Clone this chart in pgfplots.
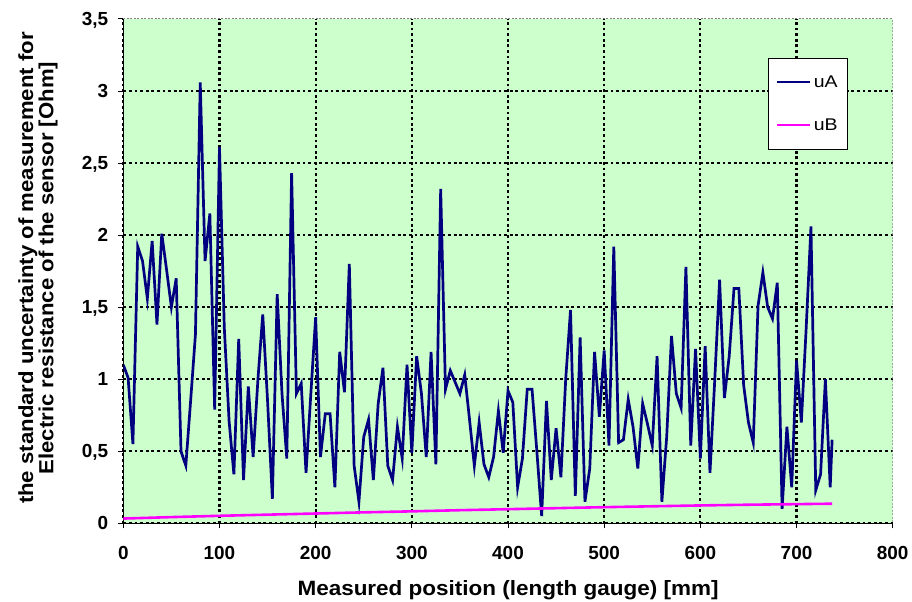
\documentclass[border=0pt]{standalone}
\usepackage{pgfplots}
\pgfplotsset{compat=1.18}
\usepackage{fontspec}
\setmainfont{Liberation Sans}
\newfontfamily\labelfont[FakeStretch=1.085]{Liberation Sans}
\newfontfamily\legfont[FakeStretch=1.15]{Liberation Sans}
\definecolor{plotbg}{RGB}{204,255,204}
\definecolor{navyA}{RGB}{0,0,128}
\definecolor{magB}{RGB}{255,0,255}
\definecolor{bordergray}{RGB}{128,128,128}
\begin{document}
\begin{tikzpicture}
\begin{axis}[
  scale only axis,
  width=769.4bp, height=504.3bp,
  xmin=0, xmax=800, ymin=0, ymax=3.5,
  axis x line*=bottom, axis y line*=left,
  axis line style={black, line width=1.3bp},
  axis background/.style={fill=plotbg},
  xtick={0,100,...,700}, ytick={0,0.5,...,3},
  extra x ticks={800}, extra y ticks={3.5},
  extra x tick style={grid=none}, extra y tick style={grid=none},
  grid=major,
  major grid style={black, line width=2.2bp, dash pattern=on 2.8bp off 2.8bp},
  tick align=outside, major tick length=5bp,
  tick style={black, line width=1bp},
  /pgf/number format/.cd, use comma, 1000 sep={}, assume math mode=true,
  /pgfplots/.cd,
  tick label style={font=\fontsize{19}{20}\selectfont\bfseries},
  xticklabel style={anchor=north, inner sep=0pt, yshift=-18bp},
  yticklabel style={anchor=east, inner sep=0pt, text depth=0pt, xshift=-10bp},
  xlabel={Measured position (length gauge) [mm]},
  xlabel style={at={(axis description cs:0.5,-0.1422)}, anchor=base, inner sep=0pt, font=\labelfont\fontsize{20.8}{22}\selectfont\bfseries},
  ylabel={the standard uncertainty of measurement for\\Electric resistance of the sensor [Ohm]},
  ylabel style={at={(axis description cs:-0.1109,0.506)}, anchor=center, inner sep=0pt, align=center, font=\labelfont\fontsize{20.5}{19}\selectfont\bfseries},
  legend image code/.code={\draw[#1] (0bp,0bp) -- (33bp,0bp);},
  legend cell align=left,
  legend style={at={(0.8375,0.9233)}, anchor=north west, draw=black, line width=0.8bp, fill=white,
    inner xsep=8bp, inner ysep=14bp, row sep=23bp,
    font=\legfont\fontsize{17}{18}\selectfont,
    nodes={inner sep=2bp, minimum height=20bp}},
]
\addplot[navyA, line width=2.7bp] coordinates {
(0,1.10) (5,1.01) (10,0.55) (15,1.92) (20,1.82) (25,1.56) (30,1.96) (35,1.38) (40,2.01) (45,1.76)
(50,1.50) (55,1.70) (60,0.50) (65,0.40) (70,0.85) (75,1.31) (80,3.06) (85,1.82) (90,2.15) (95,0.79)
(100,2.61) (105,1.36) (110,0.71) (115,0.34) (120,1.28) (125,0.30) (130,0.95) (135,0.46) (140,1.00) (145,1.45)
(150,0.85) (155,0.17) (160,1.59) (165,0.90) (170,0.45) (175,2.43) (180,0.90) (185,0.97) (190,0.35) (195,0.90)
(200,1.43) (205,0.46) (210,0.76) (215,0.76) (220,0.25) (225,1.19) (230,0.91) (235,1.80) (240,0.40) (245,0.15)
(250,0.60) (255,0.72) (260,0.30) (265,0.83) (270,1.08) (275,0.40) (280,0.30) (285,0.67) (290,0.45) (295,1.10)
(300,0.49) (305,1.16) (310,0.90) (315,0.46) (320,1.19) (325,0.41) (330,2.32) (335,0.93) (340,1.06) (345,0.98)
(350,0.90) (355,1.03) (360,0.72) (365,0.40) (370,0.70) (375,0.41) (380,0.32) (385,0.46) (390,0.78) (395,0.49)
(400,0.92) (405,0.84) (410,0.25) (415,0.45) (420,0.93) (425,0.93) (430,0.50) (435,0.05) (440,0.85) (445,0.30)
(450,0.66) (455,0.32) (460,1.00) (465,1.48) (470,0.19) (475,1.29) (480,0.15) (485,0.38) (490,1.19) (495,0.74)
(500,1.20) (505,0.54) (510,1.92) (515,0.56) (520,0.58) (525,0.86) (530,0.67) (535,0.38) (540,0.83) (545,0.69)
(550,0.54) (555,1.16) (560,0.15) (565,0.60) (570,1.30) (575,0.90) (580,0.80) (585,1.78) (590,0.54) (595,1.21)
(600,0.45) (605,1.23) (610,0.35) (615,1.00) (620,1.69) (625,0.87) (630,1.16) (635,1.63) (640,1.63) (645,0.96)
(650,0.70) (655,0.56) (660,1.51) (665,1.74) (670,1.50) (675,1.42) (680,1.67) (685,0.10) (690,0.67) (695,0.25)
(700,1.13) (705,0.70) (710,1.35) (715,2.06) (720,0.23) (725,0.34) (730,1.00) (735,0.25) (737,0.58)
};
\addlegendentry{uA}
\addplot[magB, line width=2.6bp] coordinates {
(0,0.033) (50,0.043) (100,0.052) (150,0.060) (200,0.068) (250,0.076) (300,0.083) (350,0.091)
(400,0.098) (450,0.105) (500,0.112) (550,0.118) (600,0.124) (650,0.129) (700,0.133) (737,0.136)
};
\addlegendentry{uB}
\draw[bordergray, line width=1bp, dash pattern=on 2bp off 1.5bp] (rel axis cs:0,1) -- (rel axis cs:1,1) -- (rel axis cs:1,0);
\end{axis}
\pgfresetboundingbox
\path ([shift={(-123.3bp,-77.7bp)}]current axis.south west) rectangle ([shift={(19.3bp,19bp)}]current axis.north east);
\end{tikzpicture}
\end{document}
